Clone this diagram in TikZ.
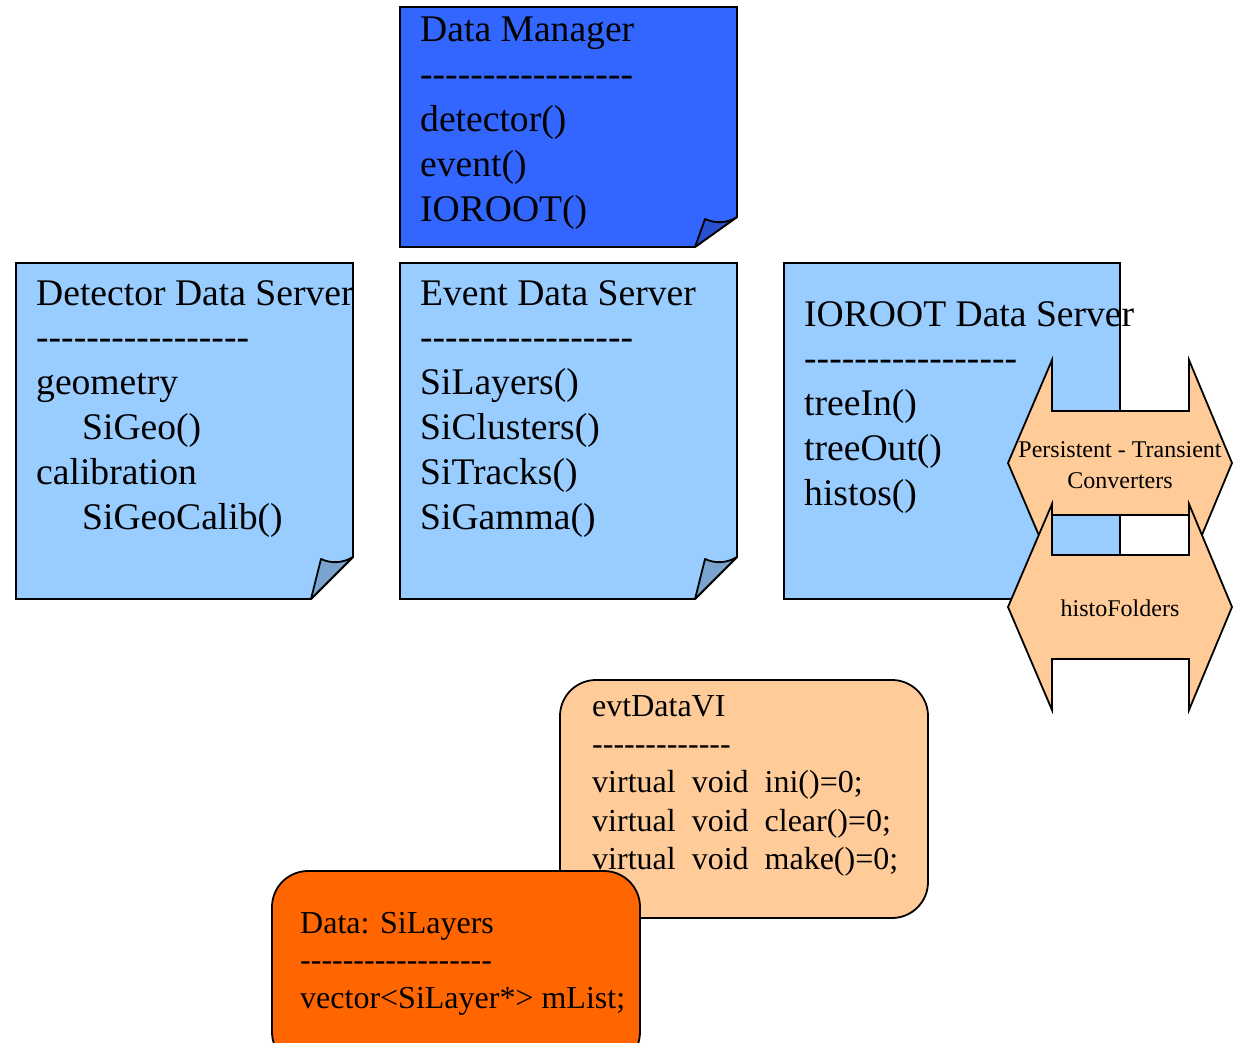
\documentclass[tikz,border=0pt]{standalone}
\usepackage{fontspec}
\setmainfont{Liberation Serif}[Ligatures=TeXOff]
\definecolor{dmblue}{HTML}{3366FF}
\definecolor{dmfold}{HTML}{2850D0}
\definecolor{srvblue}{HTML}{99CCFF}
\definecolor{srvfold}{HTML}{7BA3CF}
\definecolor{convorange}{HTML}{FFCC99}
\definecolor{dataorange}{HTML}{FF6600}

\begin{document}
\begin{tikzpicture}[
  x=1pt, y=-1pt,
  notebox/.style={draw=black, line width=1.8pt},
  flap/.style={draw=black, line width=1.8pt, line join=round},
  convbox/.style={draw=black, line width=1.8pt, fill=convorange},
  roundbox/.style={draw=black, line width=1.8pt, rounded corners=36pt},
  bigtext/.style={anchor=north west, inner sep=0pt, align=left,
    font=\fontsize{37.6}{44.8}\selectfont},
  midtext/.style={anchor=north west, inner sep=0pt, align=left,
    font=\fontsize{32}{38.3}\selectfont},
  smalltext/.style={inner sep=0pt, align=center,
    font=\fontsize{24}{31}\selectfont}
]
\useasboundingbox (0,0) rectangle (1234,1043);
\clip (0,0) rectangle (1234,1043);

% data manager
\filldraw[notebox, fill=dmblue] (400,7) -- (737,7) -- (737,217) -- (695,247) -- (400,247) -- cycle;
\filldraw[flap, fill=dmfold] (695,247) -- (705,219) .. controls (716,224) and (728,223) .. (737,217) -- cycle;
\node[bigtext] (dmtext) at (420,17) {Data Manager\\-----------------\\detector()\\event()\\IOROOT()};

% servers
\filldraw[notebox, fill=srvblue] (16,263) -- (353,263) -- (353,557) -- (311,599) -- (16,599) -- cycle;
\filldraw[flap, fill=srvfold] (311,599) -- (321,559) .. controls (332,564) and (343,563) .. (353,557) -- cycle;
\node[bigtext] (dettext) at (36,280) {Detector Data Server\\-----------------\\geometry\\\hspace*{46pt}SiGeo()\\calibration\\\hspace*{46pt}SiGeoCalib()};

\filldraw[notebox, fill=srvblue] (400,263) -- (737,263) -- (737,557) -- (695,599) -- (400,599) -- cycle;
\filldraw[flap, fill=srvfold] (695,599) -- (705,559) .. controls (716,564) and (727,563) .. (737,557) -- cycle;
\node[bigtext] (evttext) at (420,280) {Event Data Server\\-----------------\\SiLayers()\\SiClusters()\\SiTracks()\\SiGamma()};

\filldraw[notebox, fill=srvblue] (784,263) -- (1120,263) -- (1120,557) -- (1078,599) -- (784,599) -- cycle;
\filldraw[flap, fill=srvfold] (1078,599) -- (1088,559) .. controls (1099,564) and (1110,563) .. (1120,557) -- cycle;
\node[bigtext] (iotext) at (804,301) {IOROOT Data Server\\-----------------\\treeIn()\\treeOut()\\histos()};

% converters
\filldraw[convbox] (1052,360) -- (1052,411) -- (1189,411) -- (1189,360) -- (1232,463) -- (1189,566) -- (1189,515) -- (1052,515) -- (1052,566) -- (1008,463) -- cycle;
\node[smalltext] (convtext) at (1120,465) {Persistent - Transient\\Converters};
\filldraw[convbox] (1052,504) -- (1052,555) -- (1189,555) -- (1189,504) -- (1232,607) -- (1189,710) -- (1189,659) -- (1052,659) -- (1052,710) -- (1008,607) -- cycle;
\node[smalltext] (histotext) at (1120,608) {histoFolders};

% interface and data
\filldraw[roundbox, fill=convorange] (560,680) rectangle (928,918);
\node[midtext] (vitext) at (592,695) {evtDataVI\\-------------\\virtual\hspace{0.5em}void\hspace{0.5em}ini()=0;\\virtual\hspace{0.5em}void\hspace{0.5em}clear()=0;\\virtual\hspace{0.5em}void\hspace{0.5em}make()=0;};
\filldraw[roundbox, fill=dataorange] (272,871) rectangle (640,1068);
\node[midtext, font=\fontsize{32}{37.5}\selectfont] (datatext) at (300,912) {Data: SiLayers\\------------------\\vector<SiLayer*> mList;};
\end{tikzpicture}
\end{document}
